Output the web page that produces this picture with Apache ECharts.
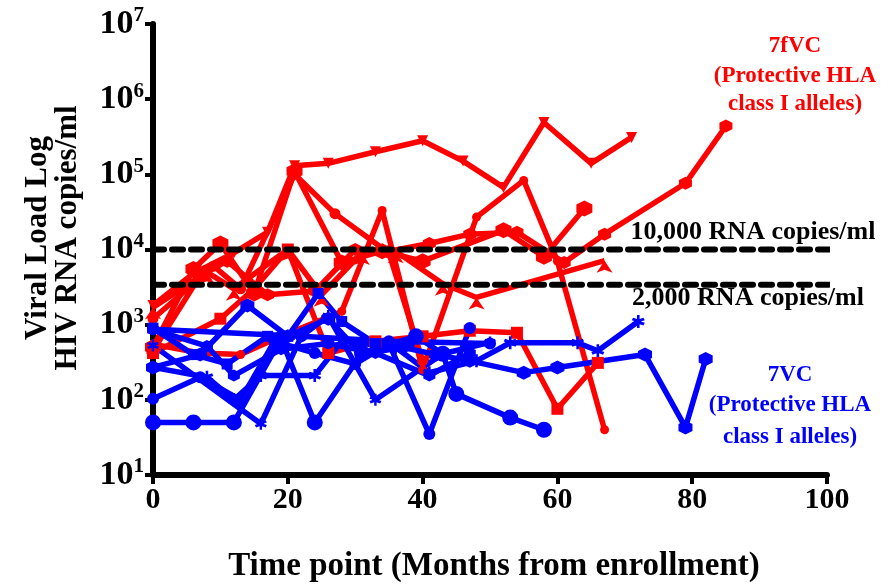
<!DOCTYPE html>
<html><head><meta charset="utf-8">
<script src="https://cdn.jsdelivr.net/npm/echarts@6/dist/echarts.min.js"></script>
<style>html,body{margin:0;padding:0;background:#fff}#c{width:894px;height:584px}</style>
</head><body><div id="c"></div>
<script>
// ---- data (month, viral load copies/ml) ----
const xTicks = [0, 20, 40, 60, 80, 100];
const yTicks = [10, 100, 1000, 10000, 100000, 1000000, 10000000];
const threshold10000 = 10000;
const threshold2000 = 3400; // drawn position of the "2,000" line as printed
const thresholdSpan = [0, 106.5];

const red1 = [[0,1800],[6,4800],[12,9000],[17,17000],[21,130000],[26,140000],[33,200000],[40,280000],[46,150000],[52,67000],[58,490000],[65,140000],[71,310000]];
const red2 = [[0,500],[6,5500],[10,12000],[15,2600],[21,110000],[28,6700],[34,9500],[40,7000],[52,18000],[58,8000],[64,35000]];
const red3 = [[0,550],[7,420],[13,400],[19,700],[28,1500],[34,33000],[40,250],[48,27000],[55,83000],[60,7000],[67,40]];
const red4 = [[0,450],[7,4500],[11,7000],[17,2500],[24,2800],[30,10000],[35,9500],[41,12000],[47,16000],[54,17000],[61,6700],[67,16000],[79,76000],[85,440000]];
const red5 = [[0,1700],[8,5000],[12,3000],[20,10000],[25,2500],[31,9000],[36,9500],[43,3500],[48,2300],[67,7100]];
const red6 = [[0,420],[10,1200],[15,3000],[20,10000],[26,420],[33,600],[40,700],[47,830],[54,780],[60,76],[66,310]];
const red7 = [[0,1200],[9,6000],[13,3000],[21,100000],[27,30000],[35,9000],[40,330]];

const blue1 = [[0,50],[6,50],[12,50],[19,650],[24,50],[31,420],[39,700],[43,410],[45,120],[53,58],[58,40]];
const blue2 = [[0,870],[22,700],[35,600],[50,560]];
const blue3 = [[0,860],[8,520],[12,210],[19,470],[26,560],[33,420],[41,210],[47,420]];
const blue4 = [[0,530],[16,48],[22,700],[26,1300],[33,100],[43,410],[50,580]];
const blue5 = [[0,270],[7,400],[14,1800],[20,700],[26,1200],[31,400],[37,500],[42,400],[47,330],[55,230],[60,270],[73,400],[79,43],[82,350]];
const blue6 = [[0,103],[7,200],[13,100],[18,600],[24,420],[30,300],[35,560],[41,35],[47,900]];
const blue7 = [[0,270],[8,200],[12,100],[16,210],[24,210],[28,600],[36,500],[41,230],[48,330],[53,575],[63,575],[66,450],[72,1100]];
const blue8 = [[0,900],[6,400],[11,300],[17,700],[20,700],[24.5,2600],[28,1100],[33,560],[38,560]];

const RED = '#ff0000', BLUE = '#0000ff';
const triDown = 'path://M0,0 L10,0 L5,9 Z';
const hex = 'path://M5,0 L9.33,2.5 L9.33,7.5 L5,10 L0.67,7.5 L0.67,2.5 Z';
const star = 'path://M4,0 L6,0 L6,3 L9,2 L10,4 L7,5 L10,6 L9,8 L6,7 L6,10 L4,10 L4,7 L1,8 L0,6 L3,5 L0,4 L1,2 L4,3 Z';

function mk(data, color, symbol, size){
  return {type:'line', data:data, symbol:symbol, symbolSize:size, showSymbol:true,
    lineStyle:{color:color, width:5.5}, itemStyle:{color:color}, z:3, animation:false};
}
const series = [
  mk(red1, RED, triDown, 11),
  mk(red2, RED, hex, 16),
  mk(red3, RED, 'circle', 9),
  mk(red4, RED, hex, 13),
  mk(red5, RED, 'arrow', 12),
  mk(red6, RED, 'rect', 12),
  mk(red7, RED, 'circle', 11),
  mk(blue1, BLUE, 'circle', 16),
  mk(blue2, BLUE, 'circle', 12),
  mk(blue3, BLUE, hex, 12),
  mk(blue4, BLUE, star, 12),
  mk(blue5, BLUE, hex, 14),
  mk(blue6, BLUE, 'circle', 12),
  mk(blue7, BLUE, star, 13),
  mk(blue8, BLUE, 'rect', 11),
  {type:'line', data:[[thresholdSpan[0],threshold10000],[thresholdSpan[1],threshold10000]], symbol:'none', clip:false, z:5,
    lineStyle:{color:'#000', width:6, type:[11,8], cap:'round'}, animation:false},
  {type:'line', data:[[thresholdSpan[0],threshold2000],[thresholdSpan[1],threshold2000]], symbol:'none', clip:false, z:5,
    lineStyle:{color:'#000', width:6, type:[11,8], cap:'round'}, animation:false}
];

const FONT = '"Liberation Serif", "Times New Roman", serif';
const chart = echarts.init(document.getElementById('c'), null, {renderer:'canvas'});
chart.setOption({
  backgroundColor:'#fff',
  grid:{left:153, right:67, top:24, bottom:109, containLabel:false},
  xAxis:{type:'value', min:xTicks[0], max:xTicks[xTicks.length-1], interval:20,
    axisLine:{show:true, onZero:false, lineStyle:{color:'#000', width:6}},
    axisTick:{show:true, length:9, lineStyle:{color:'#000', width:4}},
    splitLine:{show:false},
    axisLabel:{color:'#000', fontFamily:FONT, fontWeight:'bold', fontSize:30, margin:10}},
  yAxis:{type:'log', logBase:10, min:yTicks[0], max:yTicks[yTicks.length-1],
    axisLine:{show:true, onZero:false, lineStyle:{color:'#000', width:6}},
    axisTick:{show:true, length:8, lineStyle:{color:'#000', width:4}},
    splitLine:{show:false},
    axisLabel:{color:'#000', margin:9,
      formatter:function(v){return '{b|10}{s|'+Math.round(Math.log10(v))+'}';},
      rich:{b:{fontFamily:FONT, fontWeight:'bold', fontSize:34, color:'#000'},
            s:{fontFamily:FONT, fontWeight:'bold', fontSize:21, color:'#000', verticalAlign:'top', padding:[0,0,16,0]}}}},
  series:series,
  graphic:[
    {type:'text', x:38, y:238, rotation:Math.PI/2, style:{text:'Viral Load Log', fontFamily:FONT, fontWeight:'bold', fontSize:31, fill:'#000', align:'center', verticalAlign:'middle'}},
    {type:'text', x:68, y:238, rotation:Math.PI/2, style:{text:'HIV RNA copies/ml', fontFamily:FONT, fontWeight:'bold', fontSize:31, fill:'#000', align:'center', verticalAlign:'middle'}},
    {type:'text', x:494, y:566, style:{text:'Time point (Months from enrollment)', fontFamily:FONT, fontWeight:'bold', fontSize:33, fill:'#000', align:'center', verticalAlign:'middle'}},
    {type:'text', x:795, y:46, style:{text:'7fVC', fontFamily:FONT, fontWeight:'bold', fontSize:23, fill:RED, align:'center', verticalAlign:'middle'}},
    {type:'text', x:795, y:76, style:{text:'(Protective HLA', fontFamily:FONT, fontWeight:'bold', fontSize:23, fill:RED, align:'center', verticalAlign:'middle'}},
    {type:'text', x:795, y:104, style:{text:'class I alleles)', fontFamily:FONT, fontWeight:'bold', fontSize:23, fill:RED, align:'center', verticalAlign:'middle'}},
    {type:'text', x:753, y:232, style:{text:'10,000 RNA copies/ml', fontFamily:FONT, fontWeight:'bold', fontSize:26, fill:'#000', align:'center', verticalAlign:'middle'}},
    {type:'text', x:748, y:298, style:{text:'2,000 RNA copies/ml', fontFamily:FONT, fontWeight:'bold', fontSize:26, fill:'#000', align:'center', verticalAlign:'middle'}},
    {type:'text', x:790, y:375, style:{text:'7VC', fontFamily:FONT, fontWeight:'bold', fontSize:23, fill:BLUE, align:'center', verticalAlign:'middle'}},
    {type:'text', x:790, y:405, style:{text:'(Protective HLA', fontFamily:FONT, fontWeight:'bold', fontSize:23, fill:BLUE, align:'center', verticalAlign:'middle'}},
    {type:'text', x:790, y:437, style:{text:'class I alleles)', fontFamily:FONT, fontWeight:'bold', fontSize:23, fill:BLUE, align:'center', verticalAlign:'middle'}}
  ]
});
</script></body></html>
